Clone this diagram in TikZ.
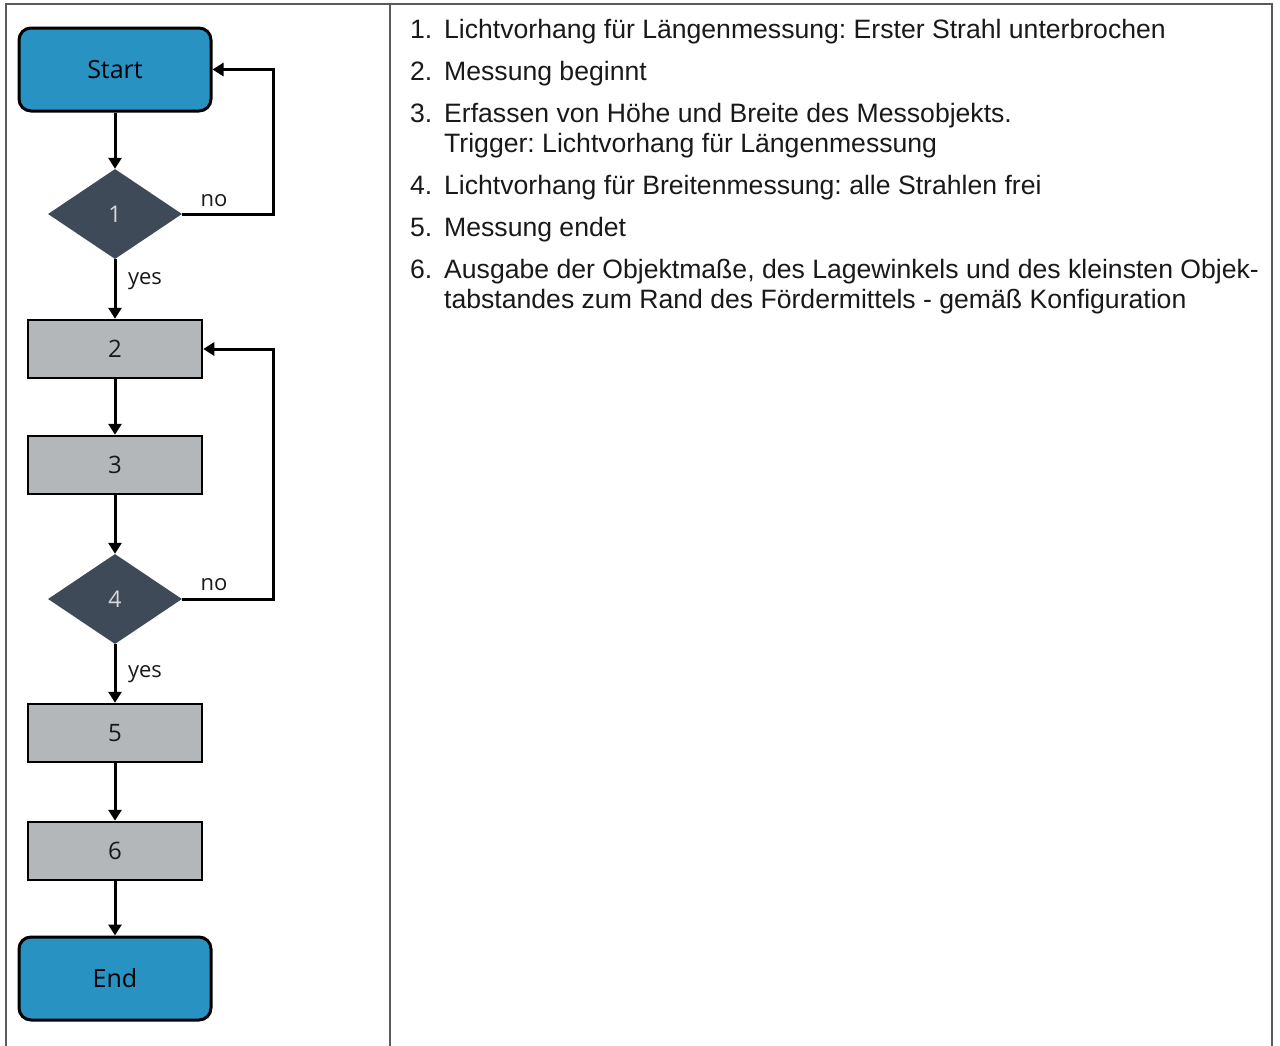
\documentclass[tikz,border=0pt]{standalone}
\usepackage{fontspec}
\setmainfont{Liberation Sans}
\newfontfamily\flowfont{Open Sans}
\frenchspacing
\usetikzlibrary{shapes.geometric,arrows.meta}
\definecolor{termblue}{RGB}{40,146,194}
\definecolor{decslate}{RGB}{62,74,88}
\definecolor{procgray}{RGB}{180,183,186}
\definecolor{framegray}{RGB}{90,90,90}
\tikzset{
  term/.style={draw=black, line width=3pt, fill=termblue, rounded corners=12pt,
    minimum width=192pt, minimum height=83pt, inner sep=0pt,
    font=\flowfont\fontsize{25}{25}\selectfont, text=black},
  dec/.style={diamond, draw=none, fill=decslate, aspect=1.49,
    minimum width=134pt, minimum height=90pt, inner sep=0pt,
    font=\flowfont\fontsize{23}{23}\selectfont, text=white!85!black},
  proc/.style={draw=black, line width=2.5pt, fill=procgray,
    minimum width=174pt, minimum height=58pt, inner sep=0pt,
    font=\flowfont\fontsize{24}{24}\selectfont, text=black!90},
  arr/.style={line width=3pt, -{Triangle[length=11pt,width=13pt]}},
  lab/.style={font=\flowfont\fontsize{22}{22}\selectfont, text=black!90, inner sep=0pt},
  itemtxt/.style={anchor=base west, inner sep=0pt, font=\fontsize{26.6}{26.6}\selectfont, text=black!90},
  frame/.style={draw=framegray, line width=2pt}
}
\begin{document}
\begin{tikzpicture}[x=1pt,y=-1pt]
\useasboundingbox (0,0) rectangle (1280,1045);
% frame
\draw[frame] (6,1046) -- (6,4) -- (1272,4) -- (1272,1046);
\draw[draw=framegray, line width=1.5pt] (390,4) -- (390,1046);
% flowchart nodes
\node[term] (start) at (115,69.5) {Start};
\node[dec] (d1) at (115,214) {1};
\node[proc] (b2) at (115,349) {2};
\node[proc] (b3) at (115,465) {3};
\node[dec] (d4) at (115,599) {4};
\node[proc] (b5) at (115,733) {5};
\node[proc] (b6) at (115,851) {6};
\node[term] (end) at (115,978.5) {End};
\coordinate (r1) at (273,69.5);
\coordinate (r2) at (273,349);
% connectors
\draw[arr] (start) -- (d1);
\draw[arr] (d1) -- (b2);
\draw[arr] (b2) -- (b3);
\draw[arr] (b3) -- (d4);
\draw[arr] (d4) -- (b5);
\draw[arr] (b5) -- (b6);
\draw[arr] (b6) -- (end);
\draw[arr] (d1.east) -| (r1) -- (start.east);
\draw[arr] (d4.east) -| (r2) -- (b2.east);
% labels
\node[lab] (no1) at (214,201) {no};
\node[lab] (yes1) at (145,281) {yes};
\node[lab] (no4) at (214,585) {no};
\node[lab] (yes4) at (145,674) {yes};
% list
\node[itemtxt] (n1) at (410,38) {1.};
\node[itemtxt] (t1) at (444,38) {Lichtvorhang für Längenmessung: Erster Strahl unterbrochen};
\node[itemtxt] (n2) at (410,80) {2.};
\node[itemtxt] (t2) at (444,80) {Messung beginnt};
\node[itemtxt] (n3) at (410,122) {3.};
\node[itemtxt] (t3) at (444,122) {Erfassen von Höhe und Breite des Messobjekts.};
\node[itemtxt] (t3b) at (444,152) {Trigger: Lichtvorhang für Längenmessung};
\node[itemtxt] (n4) at (410,194) {4.};
\node[itemtxt] (t4) at (444,194) {Lichtvorhang für Breitenmessung: alle Strahlen frei};
\node[itemtxt] (n5) at (410,236) {5.};
\node[itemtxt] (t5) at (444,236) {Messung endet};
\node[itemtxt] (n6) at (410,278) {6.};
\node[itemtxt] (t6) at (444,278) {Ausgabe der Objektmaße, des Lagewinkels und des kleinsten Objek-};
\node[itemtxt] (t6b) at (444,308) {tabstandes zum Rand des Fördermittels - gemäß Konfiguration};
\end{tikzpicture}
\end{document}
